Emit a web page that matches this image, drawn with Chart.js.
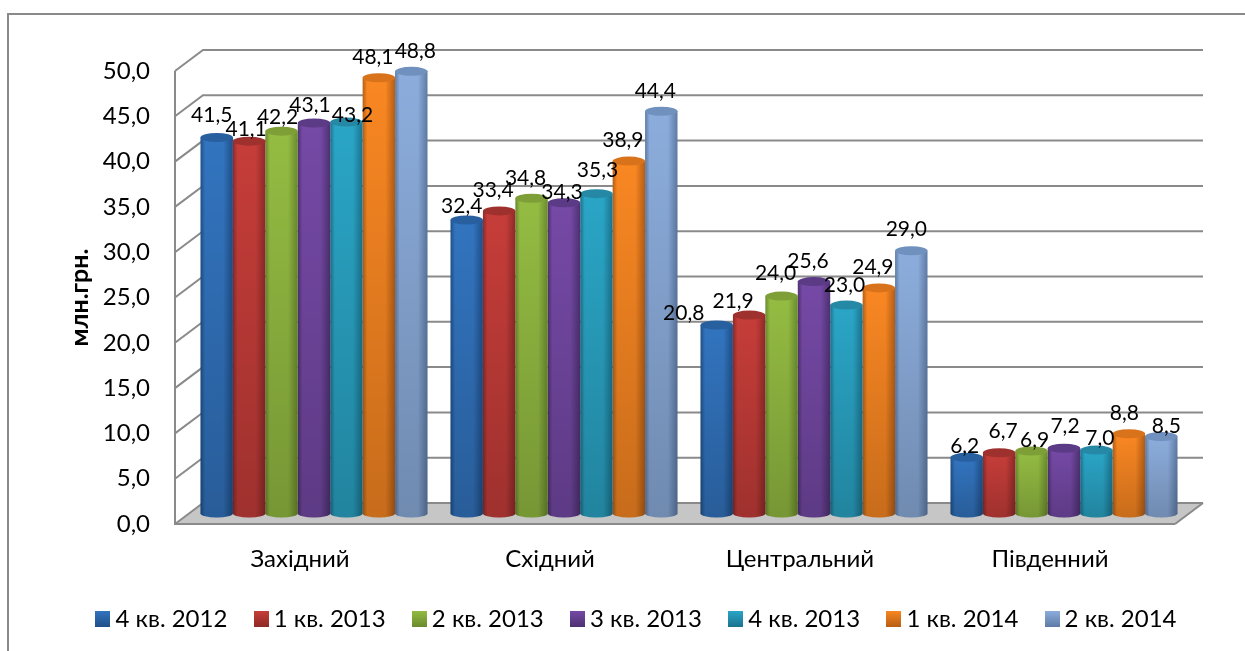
<!DOCTYPE html>
<html lang="uk">
<head>
<meta charset="utf-8">
<style>html,body{margin:0;padding:0;background:#fff}#wrap{width:1245px;height:651px}</style>
<script src="https://cdn.jsdelivr.net/npm/chart.js@4"></script>
</head>
<body>
<div id="wrap"><canvas id="c" width="1245" height="651"></canvas></div>
<script>
const categories = ['Західний', 'Східний', 'Центральний', 'Південний'];
const seriesNames = ['4 кв. 2012', '1 кв. 2013', '2 кв. 2013', '3 кв. 2013', '4 кв. 2013', '1 кв. 2014', '2 кв. 2014'];
const q4_2012 = [41.5, 32.4, 20.8, 6.2];
const q1_2013 = [41.1, 33.4, 21.9, 6.7];
const q2_2013 = [42.2, 34.8, 24.0, 6.9];
const q3_2013 = [43.1, 34.3, 25.6, 7.2];
const q4_2013 = [43.2, 35.3, 23.0, 7.0];
const q1_2014 = [48.1, 38.9, 24.9, 8.8];
const q2_2014 = [48.8, 44.4, 29.0, 8.5];
const seriesValues = [q4_2012, q1_2013, q2_2013, q3_2013, q4_2013, q1_2014, q2_2014];

const FONT = 'Lato, "Noto Sans", sans-serif';
const palette = [
  {mid:'#3274BF', edge:'#1F4F88', cap:'#285F9F'},
  {mid:'#C63D39', edge:'#8E2A28', cap:'#9E302D'},
  {mid:'#94BC42', edge:'#6A8A2E', cap:'#7E9F38'},
  {mid:'#7549A6', edge:'#4E3171', cap:'#5C3B86'},
  {mid:'#2AA5C6', edge:'#1B738E', cap:'#2588A5'},
  {mid:'#F98722', edge:'#B65E14', cap:'#D9731B'},
  {mid:'#8CADDC', edge:'#5E7BA6', cap:'#7090BE'}
];
// Manual label placement relative to each bar top: [dx, dy] by series then category
const labelNudges = [
  [[-5,-22],[-5,-14],[-33,-12],[-2,-11]],
  [[-3,-12],[-6,-21],[-16,-14],[4,-22]],
  [[-4,-14],[-6,-20],[-6,-23],[3,-11]],
  [[-4,-18],[-2,-11],[-6,-20],[1,-22]],
  [[6,-7],[1,-23],[-2,-20],[3.5,-12]],
  [[-6,-20],[-6,-21],[-6,-21],[-4.5,-21]],
  [[4,-20],[-6,-20],[-5,-22],[5,-10.5]]
];
const comma = v => Number(v).toFixed(1).replace('.', ',');
const DX = 28, DY = -21, LINE = '#8A8A8A';

function legendSwatch(p) {
  const cv = document.createElement('canvas');
  cv.width = 15; cv.height = 16;
  const c = cv.getContext('2d');
  const g = c.createLinearGradient(0, 0, 0, 16);
  g.addColorStop(0, p.mid); g.addColorStop(1, p.edge);
  c.fillStyle = g; c.fillRect(0, 0, 15, 16);
  return cv;
}

const scene = {
  id: 'scene',
  afterLayout(chart) {
    const l = chart.legend;
    const w = l.right - l.left, h = l.bottom - l.top;
    l.left = 639.5 - w / 2;
    l.right = l.left + w;
    l.top = 573.7;
    l.bottom = l.top + h;
  },
  beforeDraw(chart) {
    const c = chart.ctx;
    c.save();
    c.strokeStyle = LINE; c.lineWidth = 2;
    c.beginPath(); c.moveTo(8, 651); c.lineTo(8, 14); c.lineTo(1245, 14); c.stroke();
    c.restore();
  },
  beforeDatasetsDraw(chart) {
    const c = chart.ctx, a = chart.chartArea, y = chart.scales.y;
    c.save();
    c.fillStyle = '#C6C6C6';
    c.beginPath();
    c.moveTo(a.left, a.bottom); c.lineTo(a.left + DX, a.bottom + DY);
    c.lineTo(a.right + DX, a.bottom + DY); c.lineTo(a.right, a.bottom); c.closePath(); c.fill();
    c.strokeStyle = LINE; c.lineWidth = 2;
    y.ticks.forEach(t => {
      const py = y.getPixelForValue(t.value);
      c.beginPath();
      c.moveTo(a.left, py); c.lineTo(a.left + DX, py + DY); c.lineTo(a.right + DX, py + DY);
      c.stroke();
    });
    c.beginPath(); c.moveTo(a.right, a.bottom); c.lineTo(a.right + DX, a.bottom + DY); c.stroke();
    c.beginPath(); c.moveTo(a.left, a.top); c.lineTo(a.left, a.bottom); c.lineTo(a.right, a.bottom); c.stroke();
    c.restore();
    c.save();
    c.translate(DX / 2, DY / 2);
  },
  beforeDatasetDraw(chart, args) {
    const c = chart.ctx, p = palette[args.index];
    args.meta.data.forEach(el => {
      const x0 = el.x - el.width / 2, x1 = el.x + el.width / 2;
      const g = c.createLinearGradient(x0, 0, x1, 0);
      g.addColorStop(0, p.edge); g.addColorStop(0.14, p.mid);
      g.addColorStop(0.7, p.mid); g.addColorStop(1, p.edge);
      el.options = Object.assign({}, el.options, {backgroundColor: g, borderWidth: 0});
      c.fillStyle = g;
      c.beginPath(); c.ellipse(el.x, el.base, el.width / 2, 4, 0, 0, Math.PI * 2); c.fill();
    });
  },
  afterDatasetDraw(chart, args) {
    const c = chart.ctx, p = palette[args.index];
    args.meta.data.forEach(el => {
      const g = c.createLinearGradient(0, el.y, 0, el.base + 4);
      g.addColorStop(0, 'rgba(0,0,0,0)'); g.addColorStop(1, 'rgba(0,0,0,0.2)');
      c.fillStyle = g;
      c.beginPath();
      c.moveTo(el.x - el.width / 2, el.y); c.lineTo(el.x + el.width / 2, el.y);
      c.lineTo(el.x + el.width / 2, el.base);
      c.ellipse(el.x, el.base, el.width / 2, 4, 0, 0, Math.PI);
      c.closePath(); c.fill();
      c.fillStyle = p.cap;
      c.beginPath(); c.ellipse(el.x, el.y, el.width / 2, 4.5, 0, 0, Math.PI * 2); c.fill();
    });
  },
  afterDatasetsDraw(chart) {
    const c = chart.ctx;
    c.font = '21px ' + FONT; c.fillStyle = '#000'; c.textAlign = 'center'; c.textBaseline = 'middle';
    seriesValues.forEach((vals, i) => {
      chart.getDatasetMeta(i).data.forEach((el, j) => {
        const n = labelNudges[i][j];
        c.fillText(comma(vals[j]), el.x + n[0], el.y + n[1]);
      });
    });
    c.restore();
  }
};

new Chart(document.getElementById('c'), {
  type: 'bar',
  data: {
    labels: categories,
    datasets: seriesNames.map((name, i) => ({
      label: name,
      data: seriesValues[i],
      backgroundColor: palette[i].mid,
      borderWidth: 0,
      barPercentage: 1,
      categoryPercentage: 0.908,
      clip: false
    }))
  },
  options: {
    responsive: false,
    animation: false,
    devicePixelRatio: 1,
    layout: {padding: {left: 0, right: 70, top: 71, bottom: 0}},
    plugins: {
      tooltip: {enabled: false},
      legend: {
        position: 'bottom',
        labels: {
          font: {family: FONT, size: 24},
          color: '#000',
          usePointStyle: true,
          boxWidth: 1,
          boxHeight: 16,
          padding: 33.3,
          generateLabels(chart) {
            return seriesNames.map((n, i) => ({
              text: n, fillStyle: palette[i].mid, strokeStyle: palette[i].mid, lineWidth: 0,
              datasetIndex: i, pointStyle: legendSwatch(palette[i])
            }));
          }
        }
      }
    },
    scales: {
      x: {
        grid: {display: false, drawTicks: false},
        border: {display: false},
        ticks: {font: {family: FONT, size: 24}, color: '#000', padding: 21, maxRotation: 0},
        afterFit(s) { s.height = 59.7; }
      },
      y: {
        min: 0, max: 50,
        grid: {display: false, drawTicks: false},
        border: {display: false},
        ticks: {stepSize: 5, font: {family: FONT, size: 24}, color: '#000', padding: 25, callback: v => comma(v)},
        title: {display: true, text: 'млн.грн.', color: '#000', font: {family: FONT, size: 25, weight: 'bold'}, padding: {top: 65, bottom: 0}},
        afterFit(s) { s.width = 175; }
      }
    }
  },
  plugins: [scene]
});
</script>
</body>
</html>
